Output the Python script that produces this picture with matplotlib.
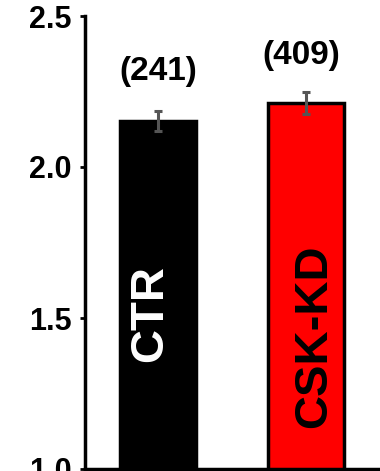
import matplotlib.pyplot as plt

plt.rcParams['font.family'] = ['Liberation Sans', 'DejaVu Sans']
plt.rcParams['font.weight'] = 'bold'

groups = ['CTR', 'CSK-KD']
means = [2.152, 2.212]
errors = [0.033, 0.035]
counts = ['(241)', '(409)']
colors = ['#000000', '#ff0000']
yticks = [1.0, 1.5, 2.0, 2.5]

fig = plt.figure(figsize=(3.8, 4.71), dpi=100)
ax = fig.add_axes([85 / 380, 2 / 471, 1 - 85 / 380, 453 / 471])

x = list(range(len(groups)))
ax.bar(x, means, width=0.51, color=colors, edgecolor='black', linewidth=2.5, zorder=2)
ax.errorbar(x, means, yerr=errors, fmt='none', ecolor='#555555',
            elinewidth=2.2, capsize=3.2, capthick=2.2, zorder=3)

# n labels above the bars
label_x = [0.0, 0.97]
label_y = [2.317, 2.368]
for lx, c, ly in zip(label_x, counts, label_y):
    ax.text(lx, ly, c, ha='center', va='center', fontsize=24, fontweight='bold')

# group names written inside the bars
name_colors = ['white', 'black']
name_x = [-0.054, 1.054]
name_y = [1.515, 1.44]
for nx, g, nc, ny in zip(name_x, groups, name_colors, name_y):
    ax.text(nx, ny, g, ha='center', va='center', rotation=90,
            color=nc, fontsize=34, fontweight='bold')

ax.set_ylim(1.0, 2.5)
ax.set_xlim(-0.493, 1.5)
ax.set_yticks(yticks)
ax.set_yticklabels([f'{t:.1f}' for t in yticks], fontsize=22, fontweight='bold')
ax.set_xticks([])
ax.tick_params(axis='y', direction='out', length=3.5, width=2, pad=6)

for side in ['top', 'right']:
    ax.spines[side].set_visible(False)
for side in ['left', 'bottom']:
    ax.spines[side].set_linewidth(2.5)

fig.savefig('out.png', dpi=100)
